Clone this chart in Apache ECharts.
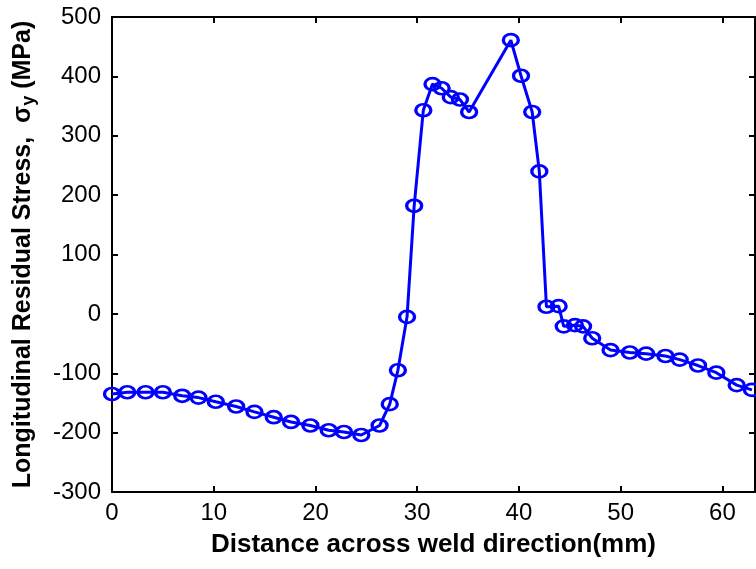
<!DOCTYPE html>
<html><head><meta charset="utf-8">
<script src="https://cdn.jsdelivr.net/npm/echarts@6/dist/echarts.min.js"></script>
<style>html,body{margin:0;padding:0;background:#fff}#c{width:756px;height:569px}</style>
</head><body><div id="c"></div>
<script>
const distance = [0, 1.5, 3.3, 5.0, 6.9, 8.5, 10.2, 12.2, 14.0, 15.9, 17.6, 19.5, 21.3, 22.8, 24.5, 26.3, 27.3, 28.1, 29.0, 29.7, 30.6, 31.5, 32.4, 33.3, 34.2, 35.1, 39.2, 40.2, 41.3, 42.0, 42.7, 43.9, 44.4, 45.5, 46.3, 47.2, 49.0, 50.9, 52.5, 54.4, 55.8, 57.6, 59.4, 61.4, 62.9];
const stress = [-135, -132, -132, -132, -138, -141, -148, -156, -165, -174, -182, -188, -196, -199, -204, -188, -152, -95, -5, 182, 343, 387, 380, 365, 361, 340, 461, 401, 340, 240, 12, 13, -21, -19, -21, -41, -61, -65, -67, -71, -77, -87, -99, -120, -128];
const xTicks = {min: 0, max: 63.2, interval: 10};
const yTicks = {min: -300, max: 500, interval: 100};
const xTitle = 'Distance across weld direction(mm)';

const chart = echarts.init(document.getElementById('c'));
const font = 'Liberation Sans, Arial, sans-serif';
const axisCommon = {
  axisLine: {show: true, onZero: false, lineStyle: {color: '#000', width: 2}},
  axisTick: {show: true, inside: true, length: 6, lineStyle: {color: '#000', width: 2}},
  splitLine: {show: false}
};
chart.setOption({
  animation: false,
  backgroundColor: '#fff',
  grid: {left: 111, top: 17, right: 1, bottom: 77, containLabel: false},
  xAxis: [
    Object.assign({type: 'value', min: xTicks.min, max: xTicks.max, interval: xTicks.interval, position: 'bottom',
      name: xTitle, nameLocation: 'middle', nameGap: 40,
      nameTextStyle: {fontFamily: font, fontSize: 26, fontWeight: 'bold', color: '#000'},
      axisLabel: {fontFamily: font, fontSize: 24, color: '#000', margin: 9, showMaxLabel: false}}, axisCommon),
    Object.assign({type: 'value', min: xTicks.min, max: xTicks.max, interval: xTicks.interval, position: 'top',
      axisLabel: {show: false}}, axisCommon)
  ],
  yAxis: [
    Object.assign({type: 'value', min: yTicks.min, max: yTicks.max, interval: yTicks.interval, position: 'left',
      name: '{a|Longitudinal Residual Stress,  σ}{s|y}{a| (MPa)}', nameLocation: 'middle', nameGap: 74, nameRotate: 90,
      nameTextStyle: {rich: {
        a: {fontFamily: font, fontSize: 25, fontWeight: 'bold', color: '#000', lineHeight: 30},
        s: {fontFamily: font, fontSize: 18, fontWeight: 'bold', color: '#000', lineHeight: 30, verticalAlign: 'bottom', padding: [12, 0, 0, 0]}
      }},
      axisLabel: {fontFamily: font, fontSize: 24, color: '#000', margin: 11}}, axisCommon),
    Object.assign({type: 'value', min: yTicks.min, max: yTicks.max, interval: yTicks.interval, position: 'right',
      axisLabel: {show: false}}, axisCommon)
  ],
  series: [{
    type: 'line',
    xAxisIndex: 0, yAxisIndex: 0,
    data: distance.map((d, i) => [d, stress[i]]),
    symbol: 'circle', symbolSize: [15, 12],
    itemStyle: {color: 'rgba(255,255,255,0)', borderColor: '#0000ff', borderWidth: 3},
    lineStyle: {color: '#0000ff', width: 3},
    clip: false
  }]
});
</script></body></html>
